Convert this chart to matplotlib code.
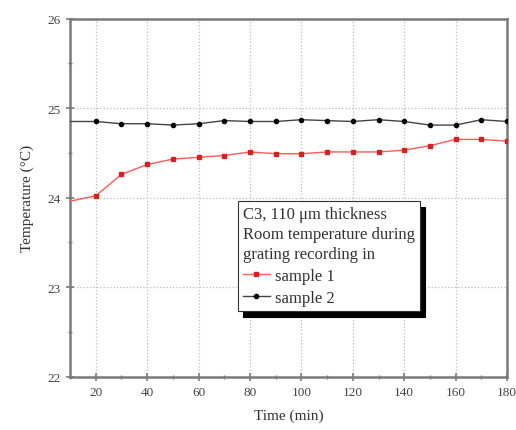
import matplotlib
matplotlib.use("Agg")
import matplotlib.pyplot as plt
from matplotlib.ticker import MultipleLocator

time = [10, 20, 30, 40, 50, 60, 70, 80, 90, 100, 110, 120, 130, 140, 150, 160, 170, 180]
sample1 = [23.96, 24.02, 24.26, 24.37, 24.43, 24.45, 24.47, 24.51, 24.49, 24.49, 24.51, 24.51,
           24.51, 24.53, 24.58, 24.65, 24.65, 24.63]
sample2 = [24.85, 24.85, 24.825, 24.825, 24.81, 24.825, 24.86, 24.85, 24.85, 24.87, 24.86, 24.85,
           24.87, 24.85, 24.81, 24.81, 24.87, 24.85]
xticks = [20, 40, 60, 80, 100, 120, 140, 160, 180]
yticks = [22, 23, 24, 25, 26]
legend_title = "C3, 110 \u03bcm thickness\nRoom temperature during\ngrating recording in"

plt.rcParams['font.family'] = ['Liberation Serif', 'DejaVu Serif']

fig = plt.figure(figsize=(5.16, 4.31), dpi=100)
ax = fig.add_axes([0.1357, 0.1237, 0.847, 0.831])

ax.plot(time, sample1, color='#ff5a5a', lw=1.0, marker='s', ms=2.6, mfc='#d82020', mec='#d82020',
        label='sample 1', markevery=slice(1, None), zorder=3)
ax.plot(time, sample2, color='#444444', lw=1.0, marker='o', ms=3.0, mfc='black', mec='black',
        label='sample 2', markevery=slice(1, None), zorder=3)

ax.set_xlim(10, 180)
ax.set_ylim(22, 26)
ax.set_xticks(xticks)
ax.set_yticks(yticks)
ax.xaxis.set_minor_locator(MultipleLocator(10))
ax.yaxis.set_minor_locator(MultipleLocator(0.5))
ax.grid(True, which='major', color='#bbbbbb', linestyle=':', linewidth=0.9)
for s in ax.spines.values():
    s.set_color('#7a7a7a')
    s.set_linewidth(1.8)
ax.tick_params(which='major', direction='inout', length=6, width=1.2, color='#7a7a7a',
               labelsize=9.5, labelcolor='#444444')
ax.tick_params(which='minor', direction='inout', length=3, width=1.0, color='#7a7a7a')
ax.tick_params(top=False, right=False)

ax.set_xlabel('Time (min)', fontsize=11, color='#333333', labelpad=8)
ax.set_ylabel('Temperature (\u00b0C)', fontsize=11, color='#333333', labelpad=10)

leg = ax.legend(title=legend_title, loc='upper left', bbox_to_anchor=(0.384, 0.4905),
                borderaxespad=0.0, alignment='left', fontsize=12,
                title_fontproperties={'size': 12},
                frameon=True, fancybox=False,
                shadow={'color': 'black', 'alpha': 1.0, 'ox': 4, 'oy': -4},
                edgecolor='#333333', handlelength=1.6, handletextpad=0.3, borderpad=0.3,
                labelspacing=0.35, framealpha=1.0)
leg.get_frame().set_linewidth(0.8)
for t in leg.get_texts():
    t.set_color('#333333')
leg.get_title().set_color('#333333')
leg.get_title().set_linespacing(1.35)

fig.savefig('out.png', dpi=100)
